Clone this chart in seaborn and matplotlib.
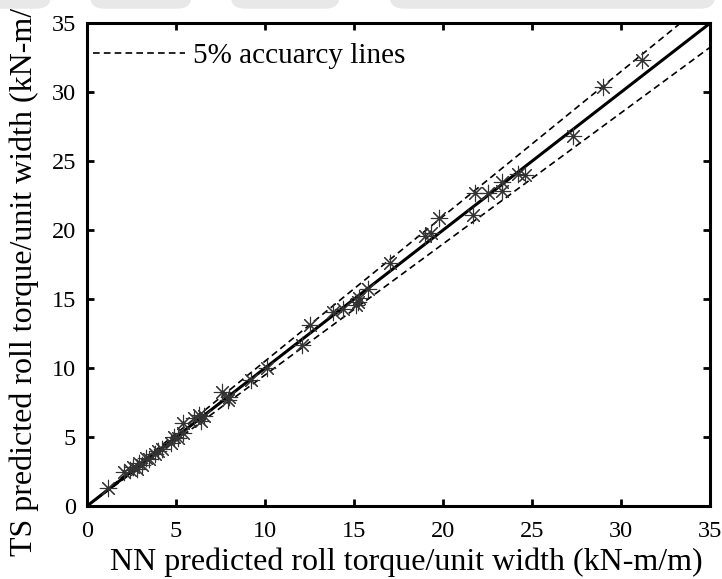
import numpy as np
import seaborn as sns
import matplotlib.pyplot as plt
from matplotlib.patches import FancyBboxPatch

# NN predicted (x) vs TS predicted (y) roll torque, kN-m/m
nn_pred = [1.2, 2.1, 2.4, 2.6, 2.8, 2.9, 3.1, 3.3, 3.5, 3.8, 4.0, 4.2,
           4.7, 4.9, 5.1, 5.4, 5.4, 6.0, 6.3, 6.4, 6.6, 7.6, 7.9, 8.0,
           9.2, 10.1, 12.1, 12.5, 13.8, 14.4, 15.1, 15.2, 15.3, 15.8,
           17.0, 19.0, 19.3, 19.8, 21.7, 21.8, 22.5, 23.3, 23.3, 24.2,
           24.6, 27.3, 29.0, 31.2]
ts_pred = [1.3, 2.5, 2.6, 2.8, 2.7, 3.1, 3.0, 3.5, 3.4, 3.8, 4.0, 4.1,
           4.6, 5.0, 4.9, 6.0, 5.3, 6.4, 6.6, 6.2, 6.5, 8.3, 7.7, 7.9,
           9.1, 10.0, 11.7, 13.1, 14.1, 14.3, 14.6, 14.8, 15.1, 15.7,
           17.6, 19.6, 19.8, 20.9, 21.1, 22.7, 22.7, 23.5, 22.8, 24.1,
           24.0, 26.8, 30.4, 32.3]

line_x = np.array([0, 35])
tol = 0.05

plt.rcParams['font.family'] = ['Liberation Serif', 'DejaVu Serif']
fig = plt.figure(figsize=(7.22, 5.79), dpi=100)
ax = fig.add_axes([0.1205, 0.126, 0.863, 0.834])

# faint grey banner along the top edge of the scan
for x0, w in [(-0.02, 0.09), (0.125, 0.14), (0.32, 0.15), (0.54, 0.45)]:
    fig.patches.append(FancyBboxPatch((x0, 0.985), w, 0.05, boxstyle="round,pad=0,rounding_size=0.02",
                                      transform=fig.transFigure, fc='#e8e8e8', ec='none', zorder=0))

ax.plot(line_x, line_x * (1 + tol), 'k--', lw=1.2, dashes=(4, 2.5), label='5% accuarcy lines')
ax.plot(line_x, line_x * (1 - tol), 'k--', lw=1.2, dashes=(4, 2.5))
ax.plot(line_x, line_x, 'k-', lw=2.2)
sns.scatterplot(x=nn_pred, y=ts_pred, ax=ax, marker=(8, 2, 0), s=140,
                color='#333333', linewidth=0.8, zorder=3)

ax.set_xlim(0, 35)
ax.set_ylim(0, 35)
ax.set_xticks(range(0, 36, 5))
ax.set_yticks(range(0, 36, 5))
ax.tick_params(direction='in', length=5, width=2, labelsize=17.5, top=True, right=True)
ax.tick_params(axis='x', pad=11)
ax.tick_params(axis='y', pad=8)
for sp in ax.spines.values():
    sp.set_linewidth(2.2)
ax.set_xlabel('NN predicted roll torque/unit width (kN-m/m)', fontsize=23, labelpad=3)
ax.set_ylabel('TS predicted roll torque/unit width (kN-m/m)', fontsize=23, labelpad=9)
ax.xaxis.set_label_coords(0.512, -0.085)

leg = ax.legend(loc='center left', bbox_to_anchor=(0.0096, 0.932), frameon=False,
                fontsize=21, handlelength=3.15, handletextpad=0.28, borderpad=0,
                borderaxespad=0)

fig.savefig('out.png', dpi=100)
